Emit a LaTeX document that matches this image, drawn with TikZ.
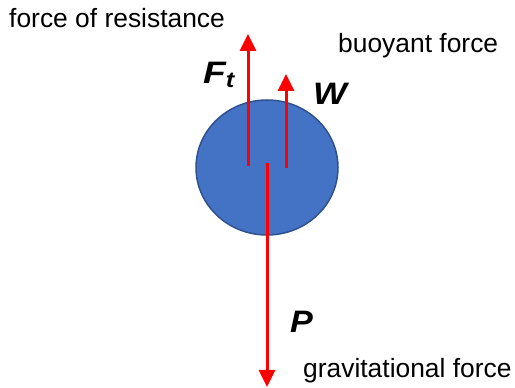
\documentclass[tikz,border=0pt]{standalone}
\usepackage{fontspec}
\setmainfont{Liberation Sans}
\usepackage{tikz}
\usetikzlibrary{shapes.geometric, arrows.meta, positioning}
\definecolor{ballblue}{RGB}{68, 114, 196}
\definecolor{balledge}{RGB}{47, 82, 143}
\definecolor{forcered}{RGB}{255, 0, 0}

\begin{document}
\begin{tikzpicture}[x=1pt, y=1pt,
    ball/.style={ellipse, draw=balledge, fill=ballblue, line width=1.5pt, minimum width=142pt, minimum height=135pt, inner sep=0pt},
    force/.style={-{Triangle[length=17pt, width=16pt]}, forcered, line width=3pt},
    caption/.style={anchor=base west, inner sep=0pt, font=\fontsize{26.4}{30}\selectfont},
    symb/.style={anchor=base west, inner sep=0pt, font=\fontsize{31}{34}\selectfont\bfseries\itshape}
]
    \useasboundingbox (0,0) rectangle (515,388);

    \node[ball] (ball) at (267, 220.5) {};

    % start and end points of the forces
    \coordinate (ftfoot) at (248, 222);
    \coordinate (fttip) at (248, 354);
    \coordinate (wfoot) at (286, 220);
    \coordinate (wtip) at (286, 314);
    \coordinate (pfoot) at (267, 225);
    \coordinate (ptip) at (267, 1);

    \draw[force] (ftfoot) -- (fttip);
    \draw[force] (wfoot) -- (wtip);
    \draw[force] (pfoot) -- (ptip);

    % symbols
    \node[symb] (ft) at (203, 304) {\scalebox{1.2}[1]{F}\raisebox{-4pt}{\fontsize{22}{24}\selectfont\scalebox{1.15}[1]{t}}};
    \node[symb] (w) at (313, 283) {\scalebox{1.15}[1]{W}};
    \node[symb] (p) at (290, 55) {\scalebox{1.1}[1]{P}};

    % captions
    \node[caption] (resist) at (9, 360) {force of resistance};
    \node[caption] (buoy) at (338, 335) {buoyant force};
    \node[caption] (grav) at (303, 10) {gravitational force};

\end{tikzpicture}
\end{document}
